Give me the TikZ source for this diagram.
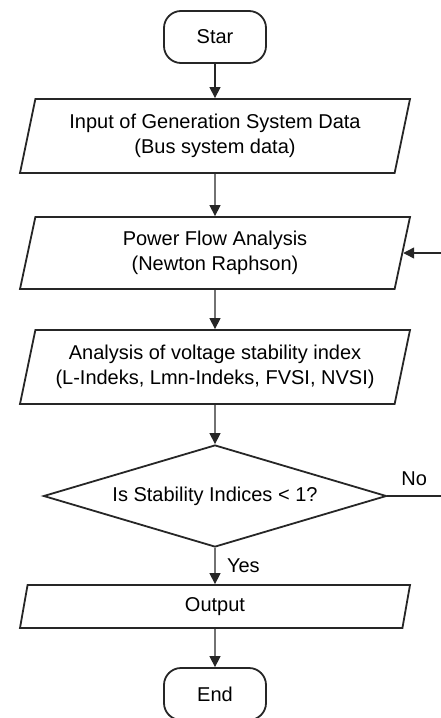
\documentclass[tikz,border=0pt]{standalone}
\usepackage{fontspec}
\setmainfont{Liberation Sans}
\usepackage{tikz}
\usetikzlibrary{positioning,
				shapes.geometric,
				arrows.meta}

\begin{document}
\begin{tikzpicture}[x=1pt,y=-1pt,
		font=\fontsize{20}{25}\selectfont,
		box/.style={draw=black!85, line width=1.8pt},
		term/.style={box, rectangle, rounded corners=17pt, minimum width=102pt, minimum height=52pt},
		io/.style={box, trapezium, trapezium left angle=73, trapezium right angle=107,
			trapezium stretches body, minimum width=390pt, minimum height=74pt, align=center},
		decide/.style={box, diamond, aspect=3.4, minimum width=343pt, minimum height=102pt, inner sep=0pt},
		link/.style={draw=black!85, line width=1.4pt},
		flow/.style={link, -{Triangle[length=11pt,width=11pt]}}]
	\useasboundingbox (0,0) rectangle (441,718);
	\node[term] (start) at (215,37) {Star};
	\node[io] (input) at (215,136) {Input of Generation System Data\\(Bus system data)};
	\node[io, minimum height=72pt] (power) at (215,253) {Power Flow Analysis\\(Newton Raphson)};
	\node[io] (index) at (215,367) {Analysis of voltage stability index\\(L-Indeks, Lmn-Indeks, FVSI, NVSI)};
	\node[decide] (check) at (215,496) {Is Stability Indices < 1?};
	\node[io, minimum height=43pt] (output) at (215,606.5) {Output};
	\node[term] (end) at (215,694) {End};
	\coordinate (noend) at (441,496);
	\coordinate (back) at (441,253);
	% main flow
	\draw[flow] (start) -- (input);
	\draw[flow] (input) -- (power);
	\draw[flow] (power) -- (index);
	\draw[flow] (index) -- (check);
	\draw[flow] (check) -- node[right=8pt] {Yes} (output);
	\draw[flow] (output) -- (end);
	% loop back
	\draw[link] (check) -- node[above=6pt, pos=0.5] {No} (noend);
	\draw[flow] (back) -- (power.east);
\end{tikzpicture}
\end{document}
